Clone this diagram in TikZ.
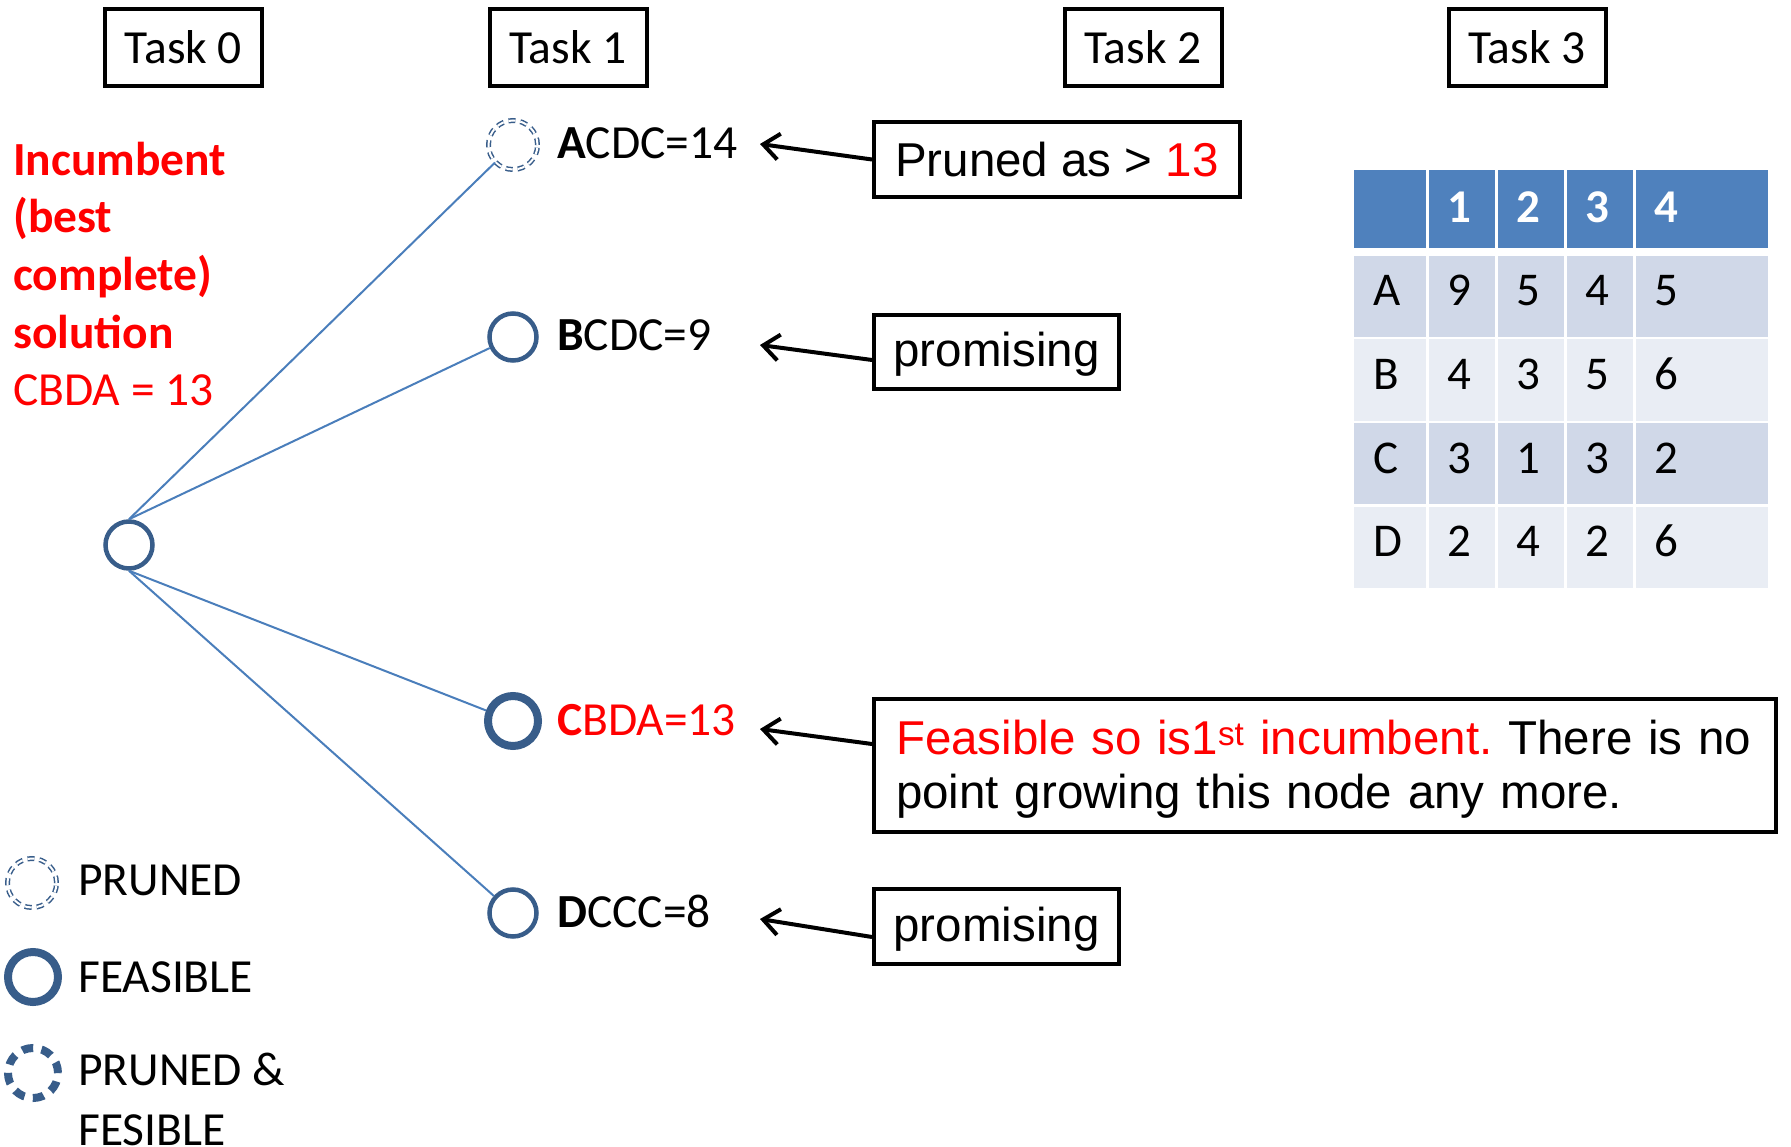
\documentclass[tikz,border=0pt]{standalone}
\usepackage{fontspec}
\setmainfont{Carlito}
\newfontfamily\arialf{Liberation Sans}
\usetikzlibrary{arrows.meta,calc}
\definecolor{nodeblue}{HTML}{385D8A}
\definecolor{lineblue}{HTML}{4A7EBB}
\definecolor{hdrblue}{HTML}{4F81BD}
\definecolor{rowdark}{HTML}{D0D8E8}
\definecolor{rowlight}{HTML}{E9EDF4}
\definecolor{incred}{HTML}{FF0000}
\begin{document}
\frenchspacing
\begin{tikzpicture}[x=1pt,y=-1pt,
  taskbox/.style={draw, line width=4pt, minimum width=157pt, minimum height=77pt, inner sep=0pt, font=\fontsize{47.5}{55}\selectfont},
  notebox/.style={draw, line width=4pt, inner sep=0pt, font=\arialf\fontsize{47.5}{54}\selectfont},
  tnode/.style={circle, draw=nodeblue, line width=4.5pt, minimum size=47pt, inner sep=0pt},
  feasnode/.style={circle, draw=nodeblue, line width=8pt, minimum size=50pt, inner sep=0pt},
  prunednode/.style={circle, draw=nodeblue, line width=1.5pt, double=white, double distance=2pt, dash pattern=on 7pt off 5pt, minimum size=49pt, inner sep=0pt},
  pfnode/.style={circle, draw=nodeblue, line width=8pt, dash pattern=on 11pt off 8.6pt, minimum size=50pt, inner sep=0pt},
  lbl/.style={anchor=base west, inner sep=0pt, font=\fontsize{47.5}{55}\selectfont},
  tbltext/.style={anchor=base west, inner sep=0pt, font=\fontsize{47}{55}\selectfont},
  branch/.style={draw=lineblue, line width=2pt},
  pointer/.style={draw, line width=4pt, -{Straight Barb[length=16pt,width=26pt]}},
]
\useasboundingbox (0,0) rectangle (1791,1147);

% Task headers
\node[taskbox] (t0) at (183.5,47.5) {Task 0};
\node[taskbox] (t1) at (568,47.5) {Task 1};
\node[taskbox] (t2) at (1143,47.5) {Task 2};
\node[taskbox] (t3) at (1527,47.5) {Task 3};

% Incumbent text (base anchor = last line)
\node[anchor=base west, inner sep=0pt, align=left, text=incred, font=\fontsize{47.5}{57.7}\selectfont] (inc) at (13,406)
  {\textbf{Incumbent}\\\textbf{(best}\\\textbf{complete)}\\\textbf{solution}\\CBDA = 13};

% Tree nodes
\node[tnode] (root) at (129,545) {};
\node[prunednode] (na) at (513,145) {};
\node[tnode] (nb) at (513,337) {};
\node[feasnode] (nc) at (513,721) {};
\node[tnode] (nd) at (513,913) {};

\draw[branch] (root.north) -- (na);
\draw[branch] (root.north) -- (nb);
\draw[branch] (root.south) -- (nc);
\draw[branch] (root.south) -- (nd);

% Labels
\node[lbl] (la) at (557,159) {\textbf{A}CDC=14};
\node[lbl] (lb) at (557,351) {\textbf{B}CDC=9};
\node[lbl, text=incred] (lc) at (557,735) {\textbf{C}BDA=13};
\node[lbl] (ld) at (557,927) {\textbf{D}CCC=8};

% Note boxes
\node[notebox, minimum width=366pt, minimum height=75pt] (pb) at (1057,159.5) {Pruned as > {\color{incred}13}};
\node[notebox, minimum width=245pt, minimum height=74pt, text height=37pt, text depth=7pt] (pm1) at (996.5,352) {promising};
\node[notebox, text width=858pt, inner xsep=22pt, minimum height=133pt, align=left, text height=41pt] (fb) at (1325,765.5)
  {{\color{incred}Feasible so is1\textsuperscript{st} incumbent.} There is no\\point growing this node any more.};
\node[notebox, minimum width=245pt, minimum height=75pt, text height=37pt, text depth=7pt] (pm2) at (996.5,926.5) {promising};

% Pointer arrows
\coordinate (ta) at (760,144);
\coordinate (tb) at (760,345);
\coordinate (tc) at (760,729);
\coordinate (td) at (760,919);
\draw[pointer] (pb.west) -- (ta);
\draw[pointer] ([yshift=-8pt]pm1.west) -- (tb);
\draw[pointer] ([yshift=21.5pt]fb.west) -- (tc);
\draw[pointer] ([yshift=-10.5pt]pm2.west) -- (td);

% Table
\foreach \xl/\xr in {1354/1425.5, 1428.5/1494.5, 1497.5/1563.5, 1566.5/1632.5, 1635.5/1768} {
  \fill[hdrblue] (\xl,170) rectangle (\xr,248);
  \fill[rowdark] (\xl,256) rectangle (\xr,337);
  \fill[rowlight] (\xl,339.5) rectangle (\xr,420.5);
  \fill[rowdark] (\xl,423) rectangle (\xr,504);
  \fill[rowlight] (\xl,506.5) rectangle (\xr,587.5);
}
\node[tbltext, text=white] (h1) at (1447,223) {\textbf{1}};
\node[tbltext, text=white] (h2) at (1516,223) {\textbf{2}};
\node[tbltext, text=white] (h3) at (1585,223) {\textbf{3}};
\node[tbltext, text=white] (h4) at (1654,223) {\textbf{4}};
\foreach \r/\y/\a/\b/\c/\d in {A/306/9/5/4/5, B/389.5/4/3/5/6, C/473/3/1/3/2, D/556.5/2/4/2/6} {
  \node[tbltext] (r\r) at (1373,\y) {\r};
  \node[tbltext] (r\r1) at (1447,\y) {\a};
  \node[tbltext] (r\r2) at (1516,\y) {\b};
  \node[tbltext] (r\r3) at (1585,\y) {\c};
  \node[tbltext] (r\r4) at (1654,\y) {\d};
}

% Legend
\node[prunednode] (lgp) at (32,883) {};
\node[lbl] (lgpt) at (78,895) {PRUNED};
\node[feasnode] (lgf) at (33,977) {};
\node[lbl] (lgft) at (78,992) {FEASIBLE};
\node[pfnode] (lgpf) at (33,1073) {};
\node[lbl, align=left, font=\fontsize{47.5}{60}\selectfont] (lgpft) at (78,1145) {PRUNED \&\\FESIBLE};
\end{tikzpicture}
\end{document}
